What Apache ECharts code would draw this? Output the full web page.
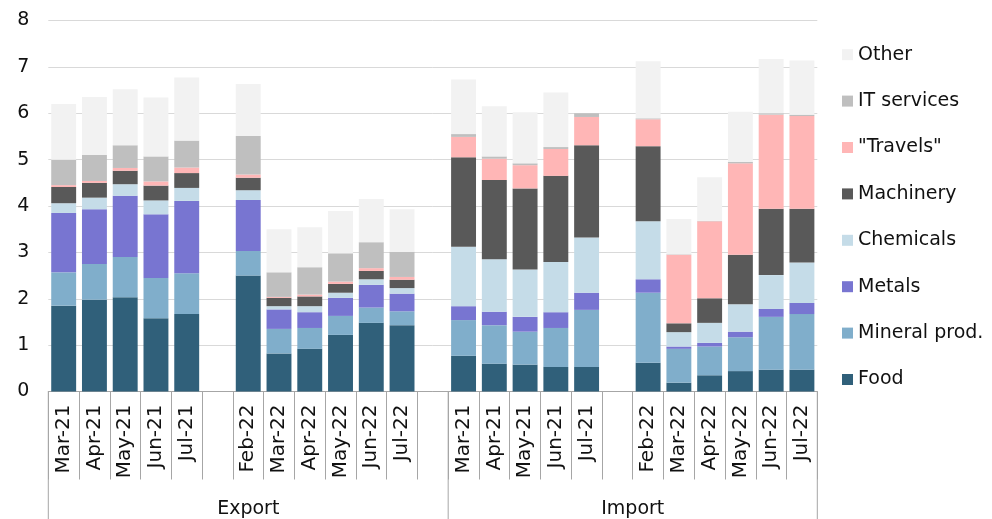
<!DOCTYPE html>
<html>
<head>
<meta charset="utf-8">
<script src="https://cdn.jsdelivr.net/npm/echarts@6/dist/echarts.min.js"></script>
<style>
  html, body { margin: 0; padding: 0; background: #fff; }
  #chart { width: 992px; height: 519px; }
</style>
</head>
<body>
<div id="chart"></div>
<script>
// Month labels of each trade block ('' marks the spacer between the two periods)
const months = ['Mar-21', 'Apr-21', 'May-21', 'Jun-21', 'Jul-21', '', 'Feb-22', 'Mar-22', 'Apr-22', 'May-22', 'Jun-22', 'Jul-22'];
const groups = ['Export', 'Import'];

// Export, by product group (null = spacer column)
const exportFood      = [1.85, 1.98, 2.03, 1.58, 1.67, null, 2.50, 0.82, 0.92, 1.22, 1.48, 1.43];
const exportMineral   = [0.72, 0.77, 0.87, 0.87, 0.88, null, 0.53, 0.53, 0.45, 0.41, 0.33, 0.30];
const exportMetals    = [1.28, 1.18, 1.32, 1.37, 1.56, null, 1.10, 0.42, 0.34, 0.39, 0.49, 0.38];
const exportChemicals = [0.21, 0.25, 0.25, 0.30, 0.28, null, 0.21, 0.07, 0.13, 0.11, 0.12, 0.12];
const exportMachinery = [0.35, 0.32, 0.29, 0.32, 0.32, null, 0.27, 0.18, 0.21, 0.19, 0.18, 0.18];
const exportTravels   = [0.04, 0.04, 0.06, 0.09, 0.12, null, 0.07, 0.02, 0.04, 0.05, 0.06, 0.06];
const exportIT        = [0.55, 0.56, 0.49, 0.54, 0.58, null, 0.83, 0.53, 0.59, 0.61, 0.56, 0.54];
const exportOther     = [1.20, 1.25, 1.21, 1.27, 1.36, null, 1.12, 0.93, 0.86, 0.91, 0.93, 0.92];

// Import, by product group
const importFood      = [0.77, 0.60, 0.58, 0.53, 0.53, null, 0.62, 0.19, 0.35, 0.44, 0.47, 0.47];
const importMineral   = [0.77, 0.83, 0.71, 0.84, 1.23, null, 1.51, 0.73, 0.62, 0.73, 1.14, 1.20];
const importMetals    = [0.30, 0.29, 0.32, 0.34, 0.37, null, 0.29, 0.05, 0.08, 0.12, 0.17, 0.24];
const importChemicals = [1.28, 1.13, 1.02, 1.08, 1.19, null, 1.25, 0.31, 0.43, 0.59, 0.73, 0.87];
const importMachinery = [1.93, 1.71, 1.75, 1.86, 1.99, null, 1.62, 0.19, 0.53, 1.07, 1.43, 1.16];
const importTravels   = [0.44, 0.46, 0.50, 0.58, 0.61, null, 0.58, 1.48, 1.66, 1.97, 2.03, 2.00];
const importIT        = [0.06, 0.05, 0.04, 0.04, 0.08, null, 0.02, 0.01, 0.01, 0.03, 0.03, 0.03];
const importOther     = [1.18, 1.08, 1.10, 1.18, 0.00, null, 1.23, 0.76, 0.94, 1.08, 1.17, 1.17];

const yTicks = [0, 1, 2, 3, 4, 5, 6, 7, 8];

const FONT = 'DejaVu Sans';
const TEXT = '#111';

// One spacer column separates the export block from the import block
const categories = [...months, '', ...months];
const join = (a, b) => [...a, null, ...b];

const seriesDefs = [
  { name: 'Food',          color: '#30607a', data: join(exportFood, importFood) },
  { name: 'Mineral prod.', color: '#80aecb', data: join(exportMineral, importMineral) },
  { name: 'Metals',        color: '#7875d1', data: join(exportMetals, importMetals) },
  { name: 'Chemicals',     color: '#c5dce8', data: join(exportChemicals, importChemicals) },
  { name: 'Machinery',     color: '#595959', data: join(exportMachinery, importMachinery) },
  { name: '"Travels"',     color: '#ffb6b6', data: join(exportTravels, importTravels) },
  { name: 'IT services',   color: '#bfbfbf', data: join(exportIT, importIT) },
  { name: 'Other',         color: '#f2f2f2', data: join(exportOther, importOther) }
];

const chart = echarts.init(document.getElementById('chart'), null, { renderer: 'canvas' });

chart.setOption({
  animation: false,
  backgroundColor: '#fff',
  grid: { left: 48.3, right: 174.7, top: 20.5, bottom: 127.5 },
  legend: {
    orient: 'vertical',
    left: 837,
    top: 39.7,
    padding: 5,
    icon: 'rect',
    itemWidth: 11,
    itemHeight: 11,
    itemGap: 26.4,
    itemTextGap: 6,
    selectedMode: false,
    textStyle: { fontFamily: FONT, fontSize: 19, color: TEXT, lineHeight: 20 },
    data: seriesDefs.map(s => s.name).reverse()
  },
  xAxis: {
    type: 'category',
    data: categories,
    boundaryGap: true,
    axisLine: { show: true, lineStyle: { color: '#a6a6a6', width: 1 } },
    axisTick: { show: true, interval: 0, length: 88, lineStyle: { color: '#a6a6a6', width: 1 } },
    axisLabel: {
      interval: 0,
      rotate: 90,
      margin: 13,
      fontFamily: FONT,
      fontSize: 20,
      color: TEXT
    },
    splitLine: { show: false }
  },
  yAxis: {
    type: 'value',
    min: yTicks[0],
    max: yTicks[yTicks.length - 1],
    interval: 1,
    axisLine: { show: false },
    axisTick: { show: false },
    axisLabel: { margin: 19, fontFamily: FONT, fontSize: 19, color: TEXT },
    splitLine: { show: true, lineStyle: { color: '#d9d9d9', width: 1 } }
  },
  series: seriesDefs.map(s => ({
    name: s.name,
    type: 'bar',
    stack: 'total',
    barCategoryGap: '19%',
    itemStyle: { color: s.color },
    emphasis: { disabled: true },
    data: s.data
  }))
});

// Group separators and group captions below the month labels,
// positioned from the category axis itself.
function drawGroups() {
  const c0 = chart.convertToPixel({ xAxisIndex: 0 }, 0);
  const c1 = chart.convertToPixel({ xAxisIndex: 0 }, 1);
  const band = c1 - c0;
  const start = c0 - band / 2;
  const split = chart.convertToPixel({ xAxisIndex: 0 }, months.length + 1) - band / 2;
  const end = chart.convertToPixel({ xAxisIndex: 0 }, categories.length - 1) + band / 2;
  const axisY = chart.convertToPixel({ yAxisIndex: 0 }, 0);
  const bottom = chart.getHeight();
  const captionY = 509;

  const line = x => ({
    type: 'line',
    shape: { x1: x, y1: axisY, x2: x, y2: bottom },
    style: { stroke: '#a6a6a6', lineWidth: 1 },
    silent: true
  });
  const caption = (text, x) => ({
    type: 'text',
    x: x,
    y: captionY,
    style: {
      text: text,
      font: '19px "' + FONT + '"',
      fill: TEXT,
      textAlign: 'center',
      textVerticalAlign: 'middle'
    },
    silent: true
  });

  chart.setOption({
    graphic: [
      line(start), line(split), line(end),
      caption(groups[0], (start + split) / 2),
      caption(groups[1], (split + end) / 2)
    ]
  });
}
drawGroups();
</script>
</body>
</html>
